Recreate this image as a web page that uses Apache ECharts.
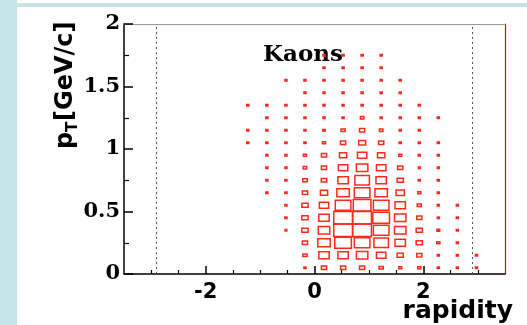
<!DOCTYPE html>
<html>
<head>
<meta charset="utf-8">
<script src="https://cdn.jsdelivr.net/npm/echarts@6/dist/echarts.min.js"></script>
<style>
  html, body { margin: 0; padding: 0; background: #ffffff; }
  #chart { width: 527px; height: 325px; }
</style>
</head>
<body>
<div id="chart"></div>
<script>
// Rapidity bin centres (bin width 0.35 over -3.5 .. 3.5)
const rapidityBins = [-1.225, -0.875, -0.525, -0.175, 0.175, 0.525, 0.875, 1.225, 1.575, 1.925, 2.275, 2.625, 2.975];
// pT bin centres (bin width 0.1 GeV/c)
const ptBins = [0.05, 0.15, 0.25, 0.35, 0.45, 0.55, 0.65, 0.75, 0.85, 0.95, 1.05, 1.15, 1.25, 1.35, 1.45, 1.55, 1.65, 1.75];

// Relative kaon yield per (rapidity, pT) cell, one array per pT bin
const pt005 = [0, 0, 0, 6, 15, 15, 15, 12, 9, 9, 6, 6, 6];
const pt015 = [0, 0, 0, 12, 30, 30, 33, 27, 18, 15, 6, 6, 6];
const pt025 = [0, 0, 0, 15, 36, 48, 45, 42, 30, 18, 9, 6, 0];
const pt035 = [0, 0, 5, 18, 33, 54, 54, 45, 33, 18, 8, 6, 0];
const pt045 = [0, 0, 6, 18, 30, 54, 54, 48, 33, 15, 6, 6, 0];
const pt055 = [0, 0, 6, 18, 27, 45, 51, 45, 30, 12, 6, 6, 0];
const pt065 = [0, 6, 6, 15, 21, 36, 45, 36, 24, 9, 6, 0, 0];
const pt075 = [0, 6, 6, 13, 16, 30, 42, 30, 18, 6, 6, 0, 0];
const pt085 = [0, 6, 6, 10, 15, 27, 33, 27, 15, 6, 6, 0, 0];
const pt095 = [0, 6, 6, 9, 15, 21, 27, 21, 9, 6, 6, 0, 0];
const pt105 = [6, 6, 6, 6, 9, 15, 20, 15, 6, 6, 6, 0, 0];
const pt115 = [6, 6, 6, 6, 7, 12, 15, 10, 6, 6, 0, 0, 0];
const pt125 = [0, 6, 6, 6, 6, 6, 10, 6, 6, 6, 6, 0, 0];
const pt135 = [6, 6, 6, 6, 6, 6, 6, 6, 6, 6, 0, 0, 0];
const pt145 = [0, 0, 0, 6, 6, 6, 6, 6, 6, 0, 0, 0, 0];
const pt155 = [0, 0, 6, 6, 6, 6, 6, 6, 6, 0, 0, 0, 0];
const pt165 = [0, 0, 0, 0, 6, 6, 6, 6, 0, 0, 0, 0, 0];
const pt175 = [0, 0, 0, 0, 6, 6, 6, 6, 0, 0, 0, 0, 0];
const yieldRows = [pt005, pt015, pt025, pt035, pt045, pt055, pt065, pt075, pt085, pt095,
                   pt105, pt115, pt125, pt135, pt145, pt155, pt165, pt175];

// Beam rapidity markers
const beamRapidity = [-2.9, 2.9];

// Axis tick values
const xMajorTicks = [-2, 0, 2];
const xMinorTicks = [-3, -2.5, -1.5, -1, -0.5, 0.5, 1, 1.5, 2.5, 3];

const X_BIN = 0.35, Y_BIN = 0.1;
const FULL_BIN_YIELD = 55; // yield that fills a whole cell

const cells = [];
yieldRows.forEach(function (row, j) {
  row.forEach(function (v, i) {
    if (v > 0) cells.push([rapidityBins[i], ptBins[j], v]);
  });
});

const RED = '#ff2a1a';

const chart = echarts.init(document.getElementById('chart'), null, { renderer: 'canvas' });

const option = {
  animation: false,
  backgroundColor: '#ffffff',
  grid: { left: 124, top: 24, width: 381, height: 250, containLabel: false },
  xAxis: [
    {
      type: 'value', min: -3.5, max: 3.5, position: 'bottom',
      splitLine: { show: false },
      axisLine: { show: true, onZero: false, lineStyle: { color: '#000', width: 1.5 } },
      axisTick: { show: true, inside: true, length: 8, customValues: xMajorTicks, lineStyle: { color: '#000', width: 1.5 } },
      axisLabel: {
        show: true, customValues: xMajorTicks, margin: 8,
        fontFamily: 'DejaVu Sans', fontWeight: 'bold', fontSize: 21, color: '#000'
      }
    },
    {
      type: 'value', min: -3.5, max: 3.5, position: 'bottom', gridIndex: 0,
      splitLine: { show: false },
      axisLine: { show: false, onZero: false },
      axisTick: { show: true, inside: true, length: 4, customValues: xMinorTicks, lineStyle: { color: '#000', width: 1.2 } },
      axisLabel: { show: false }
    },
    {
      type: 'value', min: -3.5, max: 3.5, position: 'top', gridIndex: 0,
      splitLine: { show: false },
      axisLine: { show: true, onZero: false, lineStyle: { color: '#999', width: 1 } },
      axisTick: { show: false },
      axisLabel: { show: false }
    }
  ],
  yAxis: [
    {
      type: 'value', min: 0, max: 2, interval: 0.5, position: 'left',
      splitLine: { show: false },
      axisLine: { show: true, onZero: false, lineStyle: { color: '#000', width: 1.5 } },
      axisTick: { show: true, inside: true, length: 9, lineStyle: { color: '#000', width: 1.5 } },
      minorTick: { show: true, splitNumber: 2, length: 5, lineStyle: { color: '#000', width: 1.2 } },
      axisLabel: {
        show: true, margin: 4,
        fontFamily: 'DejaVu Serif', fontWeight: 'bold', fontSize: 21, color: '#000'
      }
    },
    {
      type: 'value', min: 0, max: 2, position: 'right', gridIndex: 0,
      splitLine: { show: false },
      axisLine: { show: true, onZero: false, lineStyle: { color: '#a0281c', width: 1.2 } },
      axisTick: { show: false },
      axisLabel: { show: false }
    }
  ],
  graphic: [
    // page frame strips
    { type: 'rect', shape: { x: 0, y: 0, width: 17, height: 325 }, style: { fill: '#c6e3e8' }, silent: true, z: -10 },
    { type: 'rect', shape: { x: 17, y: 3, width: 510, height: 4 }, style: { fill: '#c6e3e8' }, silent: true, z: -10 },
    // panel label
    {
      type: 'text', x: 303, y: 55, silent: true,
      style: { text: 'Kaons', fontFamily: 'DejaVu Serif', fontWeight: 'bold', fontSize: 23, fill: '#000', align: 'center', verticalAlign: 'middle' }
    },
    // x axis title
    {
      type: 'text', x: 513, y: 311, silent: true,
      style: { text: 'rapidity', fontFamily: 'DejaVu Sans', fontWeight: 'bold', fontSize: 25, fill: '#000', align: 'right', verticalAlign: 'middle' }
    },
    // y axis title, rotated to read bottom-to-top
    {
      type: 'group', x: 66, y: 149, rotation: Math.PI / 2, silent: true,
      children: [
        { type: 'text', x: 0, y: 0, style: { text: 'p', fontFamily: 'DejaVu Sans', fontWeight: 'bold', fontSize: 24, fill: '#000', align: 'left', verticalAlign: 'middle' } },
        { type: 'text', x: 17, y: 7, style: { text: 'T', fontFamily: 'DejaVu Sans', fontWeight: 'bold', fontSize: 15, fill: '#000', align: 'left', verticalAlign: 'middle' } },
        { type: 'text', x: 28, y: 0, style: { text: '[GeV/c]', fontFamily: 'DejaVu Sans', fontWeight: 'bold', fontSize: 24, fill: '#000', align: 'left', verticalAlign: 'middle' } }
      ]
    }
  ],
  series: [
    {
      type: 'custom',
      xAxisIndex: 0, yAxisIndex: 0,
      data: cells,
      encode: { x: 0, y: 1 },
      renderItem: function (params, api) {
        const c = api.coord([api.value(0), api.value(1)]);
        const s = api.size([X_BIN, Y_BIN]);
        const f = api.value(2) / FULL_BIN_YIELD;
        const w = Math.max(s[0] * f, 1.5), h = Math.max(s[1] * f, 1.5);
        const small = w <= 3;
        return {
          type: 'rect',
          shape: { x: c[0] - w / 2, y: c[1] - h / 2, width: w, height: h },
          style: { fill: small ? RED : 'none', stroke: RED, lineWidth: 1.5 }
        };
      }
    },
    {
      type: 'line', xAxisIndex: 0, yAxisIndex: 0, data: [], silent: true,
      markLine: {
        symbol: 'none', silent: true, animation: false,
        label: { show: false },
        lineStyle: { type: [2, 3], color: '#555', width: 1 },
        data: beamRapidity.map(function (v) { return { xAxis: v }; })
      }
    }
  ]
};

chart.setOption(option);
</script>
</body>
</html>
